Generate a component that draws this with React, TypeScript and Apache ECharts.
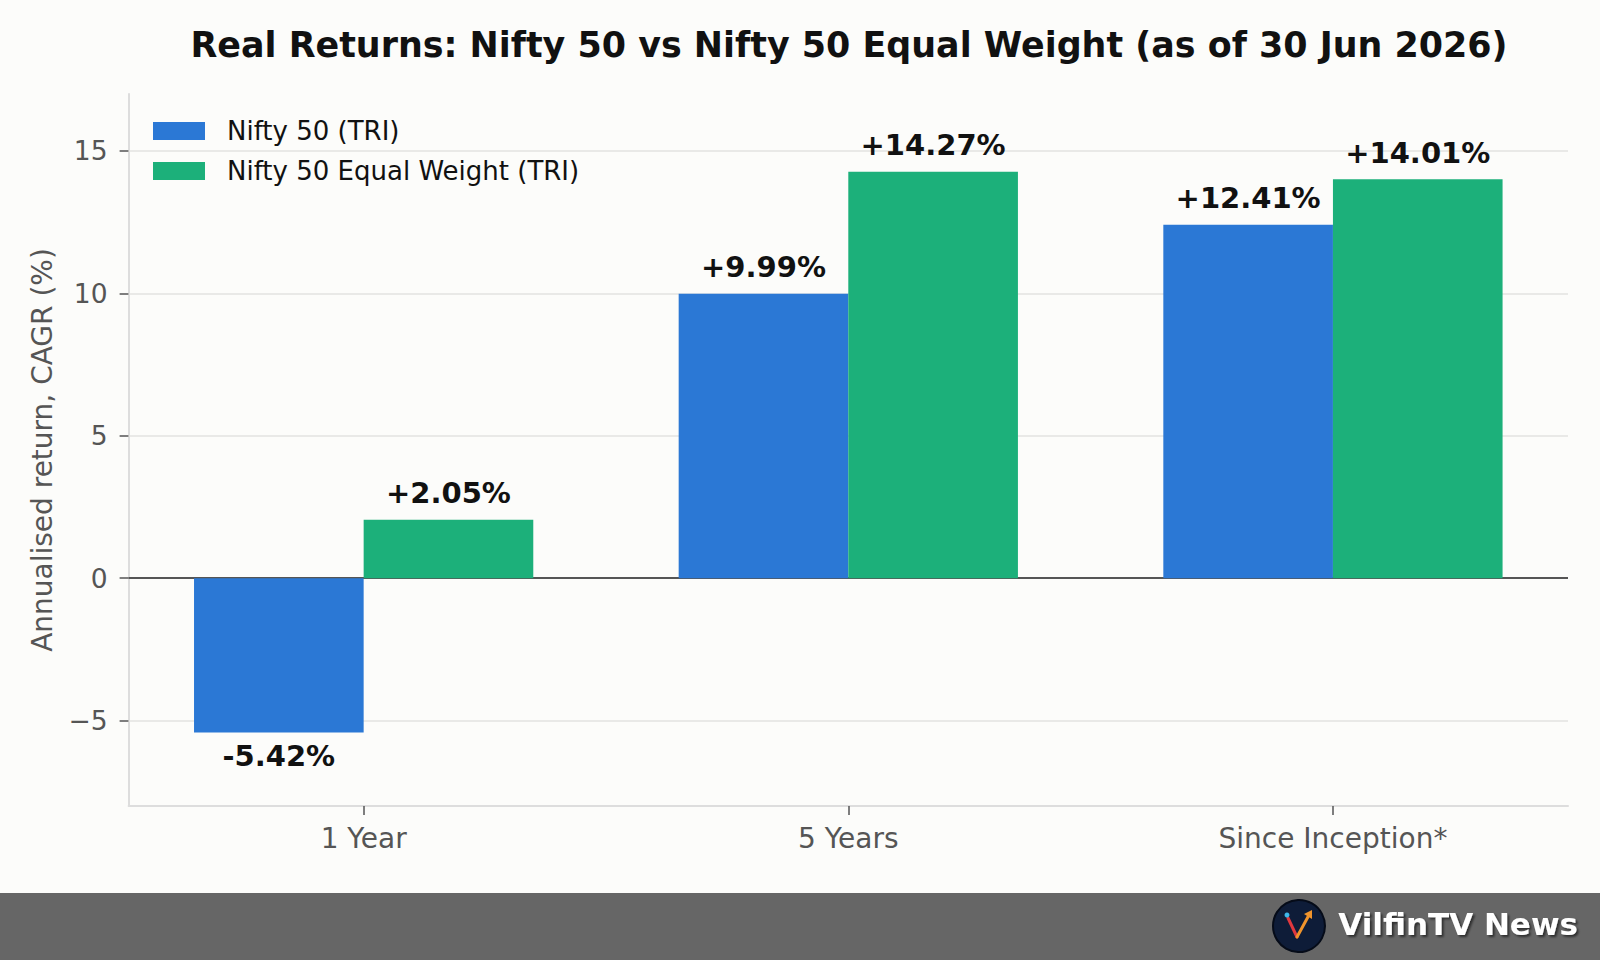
import React, { useEffect, useRef } from "react";
import * as echarts from "echarts";

const categories = ["1 Year", "5 Years", "Since Inception*"];
const seriesNames = ["Nifty 50 (TRI)", "Nifty 50 Equal Weight (TRI)"];
const nifty50 = [-5.42, 9.99, 12.41];
const equalWeight = [2.05, 14.27, 14.01];
const yTicks = [-5, 0, 5, 10, 15];
const gridValues = [-5, 5, 10, 15];
const titleText = "Real Returns: Nifty 50 vs Nifty 50 Equal Weight (as of 30 Jun 2026)";
const brandText = "VilfinTV News";

const FONT = "DejaVu Sans";
const BLUE = "#2b78d5";
const GREEN = "#1cb07a";

function fmtLabel(v: number) {
  return (v >= 0 ? "+" : "-") + Math.abs(v).toFixed(2) + "%";
}

function buildData(values: number[]) {
  return values.map((v, i) => ({
    value: [i, v],
    label: { position: v < 0 ? "bottom" : "top", distance: v < 0 ? 9 : 12 },
  }));
}

export default function App() {
  const ref = useRef<HTMLDivElement>(null);
  useEffect(() => {
    if (!ref.current) return;
    const chart = echarts.init(ref.current, null, { renderer: "svg" });
    const labelCfg = {
      show: true,
      fontFamily: FONT,
      fontSize: 29,
      fontWeight: "bold",
      color: "#111",
      formatter: (p: any) => fmtLabel(p.value[1]),
    };
    chart.setOption({
      animation: false,
      backgroundColor: "#fcfcfa",
      textStyle: { fontFamily: FONT },
      grid: {
        left: 128.6,
        right: 32,
        top: 94,
        bottom: 154,
        containLabel: false,
        outerBoundsMode: "none",
      },
      legend: {
        orient: "vertical",
        left: 148,
        top: 113,
        icon: "rect",
        itemWidth: 52,
        itemHeight: 18,
        itemGap: 14,
        textStyle: {
          fontFamily: FONT,
          fontSize: 26,
          color: "#111",
          lineHeight: 26,
          padding: [0, 0, 0, 17],
        },
        data: seriesNames,
      },
      xAxis: {
        type: "value",
        min: -0.485,
        max: 2.485,
        axisLine: { show: true, onZero: false, lineStyle: { color: "#dddddd", width: 2 } },
        axisTick: {
          show: true,
          length: 9,
          lineStyle: { color: "#555", width: 1.5 },
          customValues: [0, 1, 2],
        },
        axisLabel: {
          show: true,
          customValues: [0, 1, 2],
          formatter: (v: number) => categories[Math.round(v)] ?? "",
          fontFamily: FONT,
          fontSize: 28,
          color: "#555",
          margin: 18,
        },
        splitLine: { show: false },
      },
      yAxis: {
        type: "value",
        min: -8,
        max: 17,
        name: "Annualised return, CAGR (%)",
        nameLocation: "middle",
        nameGap: 72,
        nameRotate: 90,
        nameTextStyle: { fontFamily: FONT, fontSize: 28, color: "#555" },
        axisLine: { show: true, onZero: false, lineStyle: { color: "#dddddd", width: 2 } },
        axisTick: {
          show: true,
          length: 9,
          lineStyle: { color: "#555", width: 1.5 },
          customValues: yTicks,
        },
        axisLabel: {
          show: true,
          customValues: yTicks,
          formatter: (v: number) => (v < 0 ? "\u2212" + Math.abs(v) : String(v)),
          fontFamily: FONT,
          fontSize: 26.5,
          color: "#555",
          margin: 21,
        },
        splitLine: { show: false },
      },
      series: [
        {
          name: seriesNames[0],
          type: "bar",
          barWidth: "35%",
          barGap: "0%",
          itemStyle: { color: BLUE },
          label: labelCfg,
          data: buildData(nifty50),
          z: 3,
          markLine: {
            silent: true,
            symbol: "none",
            z: 1,
            label: { show: false },
            emphasis: { disabled: true },
            data: [
              ...gridValues.map((v) => ({
                yAxis: v,
                lineStyle: { color: "#e3e3e1", width: 1.5, type: "solid" },
              })),
              { yAxis: 0, lineStyle: { color: "#555555", width: 2, type: "solid" } },
            ],
          },
        },
        {
          name: seriesNames[1],
          type: "bar",
          barWidth: "35%",
          barGap: "0%",
          itemStyle: { color: GREEN },
          label: labelCfg,
          data: buildData(equalWeight),
          z: 3,
        },
      ],
      graphic: [
        {
          type: "text",
          x: 849,
          y: 45,
          style: {
            text: titleText,
            font: `bold 34.9px "${FONT}"`,
            textAlign: "center",
            textVerticalAlign: "middle",
            fill: "#111",
          },
        },
        {
          type: "rect",
          shape: { x: 0, y: 893, width: 1600, height: 67 },
          style: { fill: "#666666" },
        },
        {
          type: "circle",
          shape: { cx: 1299, cy: 926, r: 26 },
          style: { fill: "#0e1c38", stroke: "#050b18", lineWidth: 2 },
        },
        {
          type: "line",
          shape: { x1: 1288, y1: 918, x2: 1297, y2: 937 },
          style: { stroke: "#e0383e", lineWidth: 3, lineCap: "round" },
        },
        {
          type: "line",
          shape: { x1: 1297, y1: 937, x2: 1309, y2: 915 },
          style: { stroke: "#f0942c", lineWidth: 3, lineCap: "round" },
        },
        {
          type: "polygon",
          shape: { points: [[1304, 914], [1312, 910], [1312, 919]] },
          style: { fill: "#f0942c" },
        },
        {
          type: "circle",
          shape: { cx: 1287, cy: 915, r: 2.5 },
          style: { fill: "#3fb8ea" },
        },
        {
          type: "text",
          x: 1578,
          y: 924,
          style: {
            text: brandText,
            font: `bold 31px "${FONT}"`,
            textAlign: "right",
            textVerticalAlign: "middle",
            fill: "#ffffff",
            textShadowColor: "rgba(0,0,0,0.55)",
            textShadowOffsetX: 2,
            textShadowOffsetY: 2,
            textShadowBlur: 2,
          },
        },
      ],
    });
    return () => chart.dispose();
  }, []);
  return (
    <div
      ref={ref}
      style={{ position: "fixed", left: 0, top: 0, width: 1600, height: 960 }}
    />
  );
}
